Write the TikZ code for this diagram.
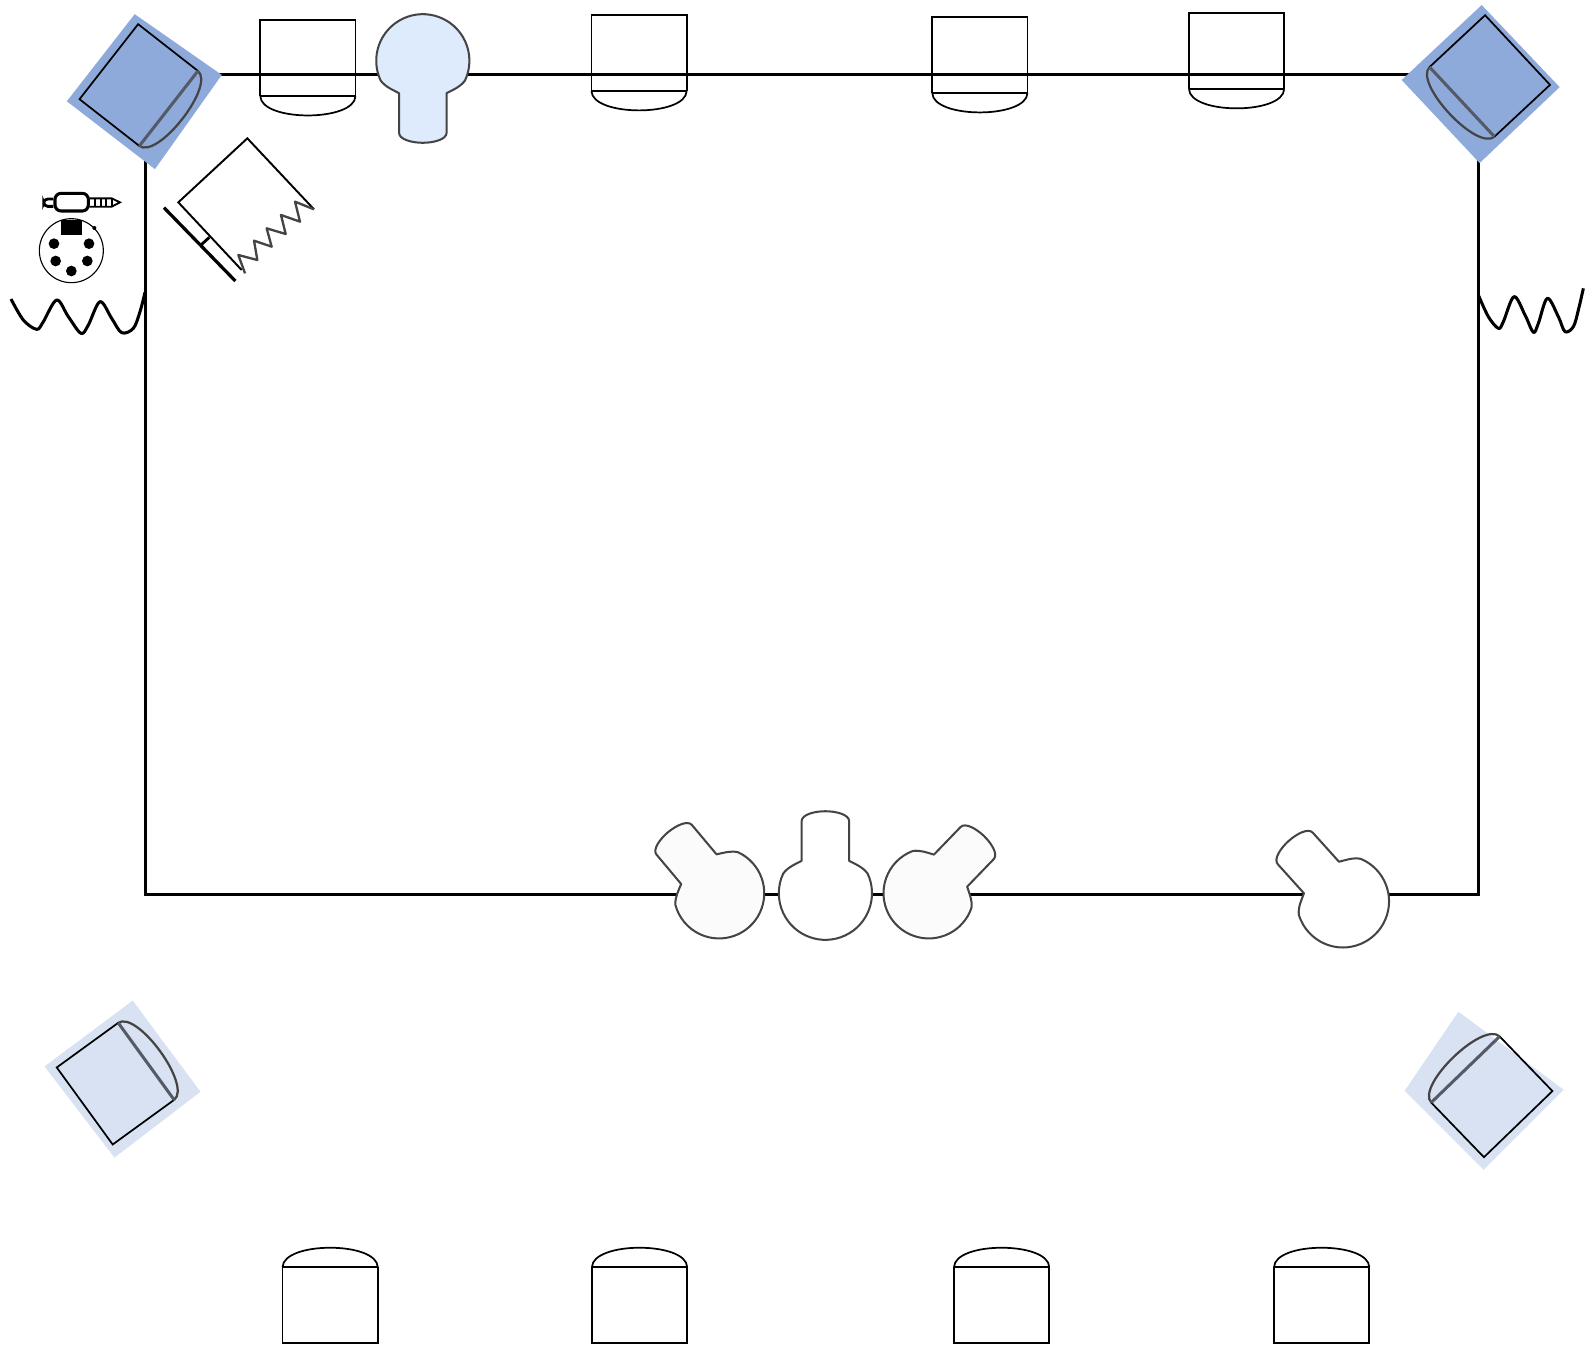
\documentclass[tikz,border=0pt]{standalone}
\definecolor{bluedark}{HTML}{8EAADB}
\definecolor{bluelight}{HTML}{D9E2F3}
\definecolor{bulbblue}{HTML}{DDEBFC}
\definecolor{softline}{HTML}{444444}
\definecolor{softbarline}{HTML}{555A66}
\tikzset{
  wall/.style={line width=1.3pt,black},
  thinbox/.style={line width=0.85pt,black},
  softdome/.style={line width=1.1pt,softline},
  softbar/.style={line width=1.5pt,softbarline},
  bulbline/.style={line width=1pt,softline,line join=round},
  wiggle/.style={line width=1.5pt,black,line join=round},
  zoomed/.style={scale=0.32914},
  icon/.style={line width=0.9pt,black}
}
% centre x, centre y, rotation, divider style, dome style, dome height
\newcommand{\spkr}[6]{%
  \begin{scope}[shift={(#1,#2)},rotate=#3]
    \draw[#5] (-47,37.5) .. controls (-46.5,{37.5+0.65*#6}) and (-24,{37.5+#6}) .. (0,{37.5+#6})
              .. controls (24,{37.5+#6}) and (46.5,{37.5+0.65*#6}) .. (47,37.5);
    \draw[thinbox] (-47,37.5) -- (-47,-37.5) -- (47,-37.5) -- (47,37.5);
    \draw[#4] (-47,37.5) -- (47,37.5);
  \end{scope}}
% centre x, centre y, rotation, scale, fill
\newcommand{\bulb}[5]{%
  \begin{scope}[shift={(#1,#2)},rotate=#3,scale=#4]
    \draw[bulbline,fill=#5] (-23.5,32) .. controls (-29,29) and (-37,26) .. (155:46)
      arc[start angle=155,end angle=385,radius=46]
      .. controls (37,26) and (29,29) .. (23.5,32) -- (23.5,71)
      .. controls (23.5,78) and (10,81) .. (0,81)
      .. controls (-10,81) and (-23.5,78) .. (-23.5,71) -- cycle;
  \end{scope}}
\begin{document}
\begin{tikzpicture}[x=0.5pt,y=-0.5pt]
\useasboundingbox (0,0) rectangle (1568,1332);
\fill[white] (0,0) rectangle (1568,1332);
% room
\draw[wall,line join=miter] (143.5,73.6) rectangle (1460,883);
% corner backings
\fill[bluedark] (133,14) -- (219,74) -- (153,167) -- (66,100) -- cycle;
\fill[bluedark] (1463,5) -- (1540,86) -- (1461,161) -- (1384,79) -- cycle;
\fill[bluelight] (131,988) -- (198,1078) -- (113,1143) -- (44,1053) -- cycle;
\fill[bluelight] (1440,999) -- (1544,1076) -- (1465,1155) -- (1387,1077) -- cycle;
% speakers, top row
\spkr{304}{57.5}{0}{thinbox}{thinbox}{19}
\spkr{631}{52.5}{0}{thinbox}{thinbox}{19}
\spkr{967.5}{54.5}{0}{thinbox}{thinbox}{19}
\spkr{1221}{50.5}{0}{thinbox}{thinbox}{19}
% speakers, bottom row
\spkr{326}{1288.5}{180}{thinbox}{thinbox}{19}
\spkr{631.5}{1288.5}{180}{thinbox}{thinbox}{19}
\spkr{989}{1288.5}{180}{thinbox}{thinbox}{19}
\spkr{1305}{1288.5}{180}{thinbox}{thinbox}{19}
% corner speakers
\spkr{137}{84}{52}{softbar}{softdome}{17}
\spkr{1471}{75}{-47}{softbar}{softdome}{17}
\spkr{114}{1070}{126}{softbar}{softdome}{17}
\spkr{1473}{1083}{-136}{softbar}{softdome}{17}
% bulbs
\bulb{417.5}{60}{0}{1}{bulbblue}
\bulb{710}{882}{-140}{0.97}{white!98.5!black}
\bulb{815}{882}{180}{1}{white}
\bulb{917}{882}{136}{0.97}{white!98.5!black}
\bulb{1326}{890}{-138}{0.99}{white}
% wiggles and icons, traced from enlarged crops
\begin{scope}[zoomed]
  % flag
  \draw[thinbox,line width=0.95pt] (942,628) -- (742,415) -- (535,607) -- (725,810);
  \draw[softline,line width=1.15pt,line join=round] (735,820) -- (715,765) -- (772,780) -- (762,722) -- (815,740) -- (800,685) -- (857,702) -- (843,645) -- (900,665) -- (885,605) -- (942,628);
  \draw[line width=1.6pt] (492,623) -- (706,843);
  \draw[line width=1.4pt] (605,733) -- (628,712);
  % left wiggle
  \draw[wiggle] plot[smooth,tension=0.55] coordinates {(33,897) (70,960) (110,988) (130,965) (170,900) (205,950) (243,1000) (265,975) (300,905) (335,955) (365,998) (400,985) (420,935) (435,877)};
  % jack plug
  \draw[line width=1.5pt,rounded corners=3pt] (165,580) rectangle (265,633);
  \draw[line width=1.4pt,rounded corners=2pt] (160,597) -- (131,597) -- (131,619) -- (160,619);
  \draw[icon] (268,595) -- (335,595) -- (360,607) -- (335,620) -- (268,620);
  \draw[icon] (285,595) -- (285,620) (303,595) -- (303,620) (318,595) -- (318,620) (335,595) -- (335,620);
  % DIN socket
  \draw[line width=0.55pt] (214,752) circle[radius=96];
  \fill (182,660) rectangle (247,706);
  \fill (283,684) circle[radius=6];
  \fill (162,731) circle[radius=16];
  \fill (267,731) circle[radius=16];
  \fill (167,783) circle[radius=16];
  \fill (262,783) circle[radius=16];
  \fill (214,813) circle[radius=16];
\end{scope}
\begin{scope}[shift={(1352.75,0)},zoomed]
  \draw[wiggle] plot[smooth,tension=0.55] coordinates {(325,885) (355,950) (385,985) (400,965) (432,890) (465,945) (490,997) (505,970) (532,895) (565,950) (585,995) (610,980) (625,930) (640,865)};
\end{scope}
\end{tikzpicture}
\end{document}
